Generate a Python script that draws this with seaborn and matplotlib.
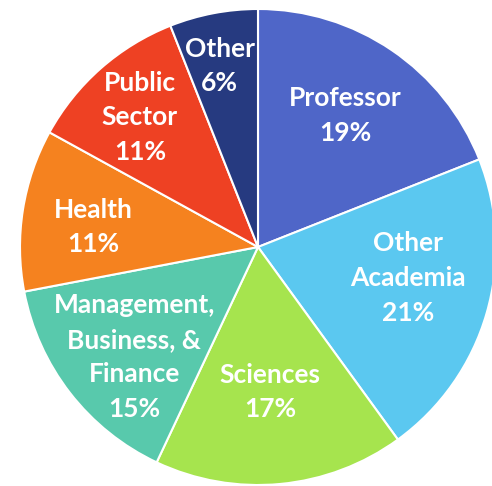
import numpy as np
from matplotlib import pyplot as plt
import seaborn as sns

labels = ['Professor', 'Other\nAcademia', 'Sciences', 'Management,\nBusiness, &\nFinance',
          'Health', 'Public\nSector', 'Other']
shares = [19, 21, 17, 15, 11, 11, 6]
colors = ['#4F66C8', '#5BC8F0', '#A6E44E', '#58C9AC', '#F5821F', '#EE4123', '#263A80']
# label placement: radius fraction and angle nudge (deg) from the wedge middle
label_r = [0.663, 0.643, 0.611, 0.696, 0.698, 0.737, 0.778]
label_dt = [0.7, 4.5, -0.7, 3.8, 2.1, 0.9, 1.1]

sns.set_theme(style='white')
plt.rcParams['font.family'] = ['Lato', 'DejaVu Sans']

fig = plt.figure(figsize=(4.92, 4.86), dpi=100)
ax = fig.add_axes([20 / 492, 1 / 486, 476 / 492, 476 / 486])

wedges, _ = ax.pie(shares, colors=colors, startangle=90, counterclock=False,
                   wedgeprops={'edgecolor': 'white', 'linewidth': 1.5})

for w, lab, val, r, dt in zip(wedges, labels, shares, label_r, label_dt):
    ang = np.deg2rad((w.theta1 + w.theta2) / 2 + dt)
    ax.text(r * np.cos(ang), r * np.sin(ang), '{}\n{}%'.format(lab, val),
            ha='center', va='center', color='white', fontsize=19,
            fontweight='bold', linespacing=1.53)

ax.set_xlim(-1, 1)
ax.set_ylim(-1, 1)
ax.axis('off')
plt.savefig('out.png', dpi=100)
